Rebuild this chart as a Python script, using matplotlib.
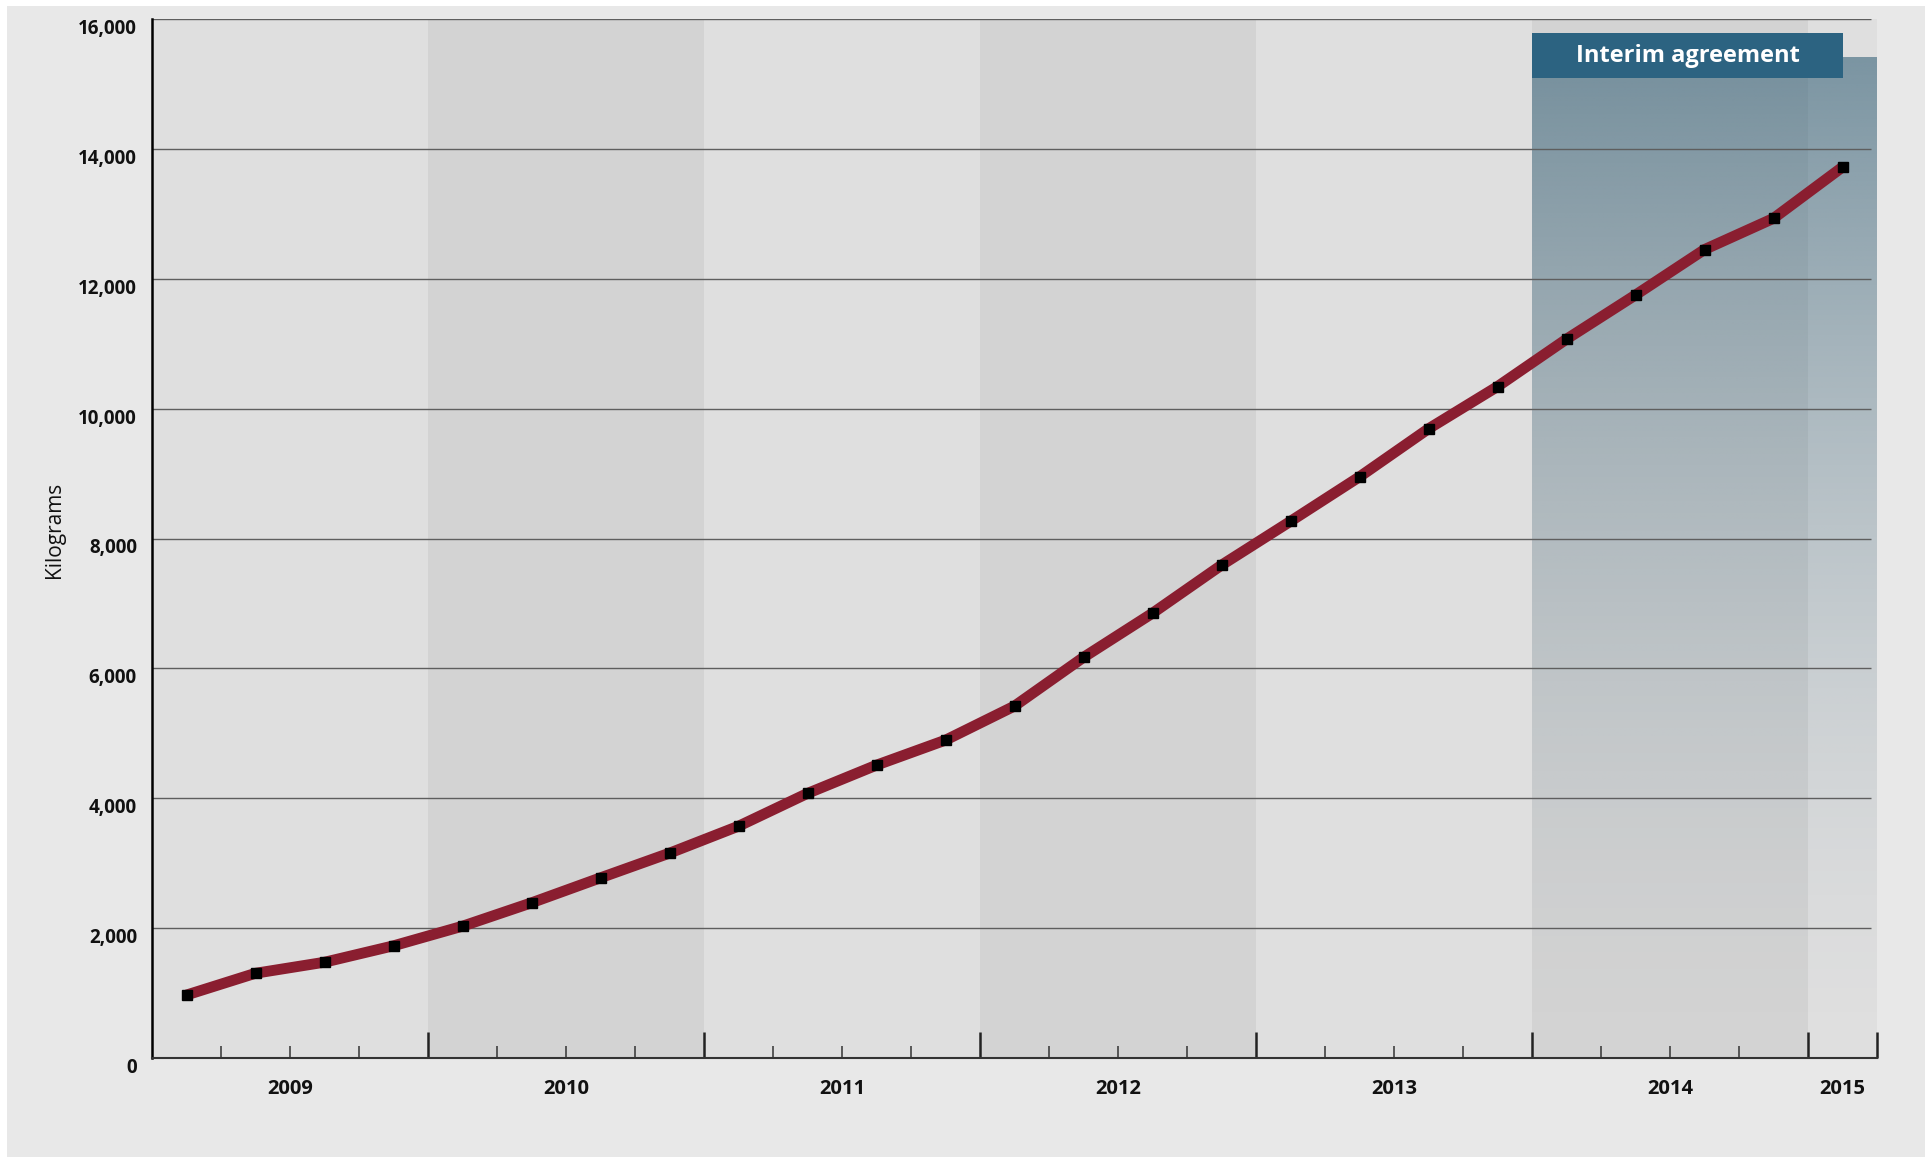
import numpy as np
import matplotlib
matplotlib.use("Agg")
import matplotlib.pyplot as plt
from matplotlib.patches import Rectangle
from matplotlib.transforms import ScaledTranslation

plt.rcParams['font.family'] = ['Open Sans', 'DejaVu Sans']

# quarterly values, kilograms (mid-quarter points)
quarters = np.arange(2009.125, 2015.2, 0.25)
kilograms = [970, 1305, 1475, 1728, 2030, 2390, 2775, 3155, 3570, 4075,
             4510, 4895, 5420, 6170, 6850, 7590, 8265, 8950, 9690, 10340,
             11070, 11750, 12450, 12930, 13720]
years = [2009, 2010, 2011, 2012, 2013, 2014, 2015]
year_label_pos = [2009.5, 2010.5, 2011.5, 2012.5, 2013.5, 2014.5, 2015.125]
yticks = [0, 2000, 4000, 6000, 8000, 10000, 12000, 14000, 16000]
x_end = 2015.25
interim_start = 2014
interim_top = 15400
label_text = "Interim agreement"

fig = plt.figure(figsize=(19.33, 11.61), dpi=100, facecolor='white')
fig.patches.append(Rectangle((7/1933, 4/1161), 1918/1933, 1151/1161,
                             transform=fig.transFigure, facecolor='#e8e8e8',
                             edgecolor='none', zorder=-10))
ax = fig.add_axes([152/1933, 1 - 1058/1161, (1877-152)/1933, (1058-19)/1161])
ax.set_facecolor('none')
ax.set_xlim(2009, x_end)
ax.set_ylim(0, 16000)

# alternating year bands
for i, yr in enumerate(years):
    c = '#dfdfdf' if i % 2 == 0 else '#d3d3d3'
    ax.axvspan(yr, min(yr + 1, x_end), color=c, lw=0, zorder=0)

# interim agreement shading, fading downwards
grad = np.zeros((256, 1, 4))
grad[:, 0, 0] = 50/255
grad[:, 0, 1] = 95/255
grad[:, 0, 2] = 118/255
grad[:, 0, 3] = 0.58 * np.linspace(1.0, 0.0, 256) ** 1.6
ax.imshow(grad, extent=[interim_start, x_end, 0, interim_top], aspect='auto',
          origin='upper', zorder=1, interpolation='bilinear')

# gridlines
ax.hlines(yticks[1:], 2009, 2015.23, colors='#5e5e5e', lw=1.0, zorder=2)

# label box
ax.add_patch(Rectangle((interim_start, 15090), 1.127, 695, facecolor='#2c6381',
                       edgecolor='none', zorder=3))
ax.text(interim_start + 1.127/2, 15090 + 695/2, label_text, color='white',
        fontsize=17, fontweight='bold', ha='center', va='center', zorder=4)

# data line
ax.plot(quarters, kilograms, color='#8a1e30', lw=7.8, solid_capstyle='butt',
        zorder=5)
ax.plot(quarters, kilograms, ls='none', marker='s', ms=6.8, color='black',
        zorder=6)

# axes styling
for s in ['top', 'right']:
    ax.spines[s].set_visible(False)
ax.spines['left'].set_color('black')
ax.spines['left'].set_linewidth(1.8)
ax.spines['bottom'].set_color('#333333')
ax.spines['bottom'].set_linewidth(1.5)
ax.spines['left'].set_zorder(7)
ax.spines['bottom'].set_zorder(7)

ax.set_xticks(years[1:] + [x_end])
ax.set_xticks(np.arange(2009.25, 2015.2, 0.25), minor=True)
ax.tick_params(axis='x', which='major', direction='in', length=19,
               width=1.8, color='#222222', labelbottom=False)
ax.tick_params(axis='x', which='minor', direction='in', length=8.5,
               width=1.1, color='#333333')
ax.set_yticks(yticks)
ax.tick_params(axis='y', length=0, labelleft=False)

off = ScaledTranslation(-0.15, -0.10, fig.dpi_scale_trans)
for v in yticks:
    ax.text(0, v, f"{v:,}", transform=ax.get_yaxis_transform() + off,
            ha='right', va='center', fontsize=13.5, fontweight='bold',
            color='#111111')

xoff = ScaledTranslation(0, -0.31, fig.dpi_scale_trans)
for yr, xp in zip(years, year_label_pos):
    ax.text(xp, 0, str(yr), transform=ax.get_xaxis_transform() + xoff,
            ha='center', va='center', fontsize=14.5, fontweight='bold',
            color='#111111')

fig.text(55/1933, 1 - 530/1161, "Kilograms", rotation=90, ha='center',
         va='center', fontsize=15, color='#111111')

fig.savefig('out.png', dpi=100, facecolor=fig.get_facecolor())
